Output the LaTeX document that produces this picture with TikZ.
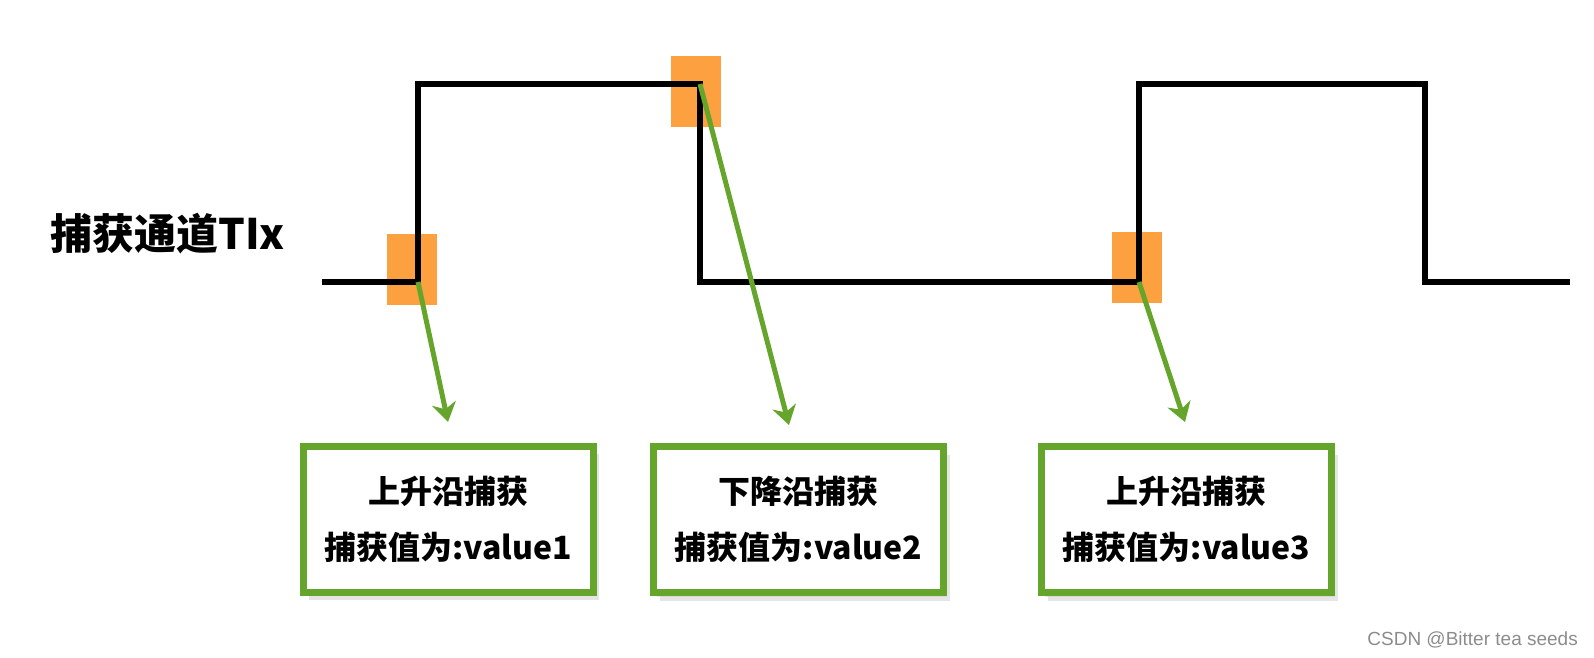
\documentclass[tikz,border=0pt]{standalone}
\usepackage{fontspec}
\setmainfont{Liberation Sans}
\newfontfamily\cjk{Noto Sans CJK SC}
\usetikzlibrary{arrows.meta,shadows}
\definecolor{gbox}{RGB}{101,165,43}
\definecolor{orng}{RGB}{252,160,64}
\tikzset{
  capbox/.style={draw=gbox, line width=7pt, fill=white, minimum width=290pt, minimum height=146pt,
    align=center, inner sep=0pt, font=\cjk\bfseries\fontsize{32}{56}\selectfont,
    double copy shadow={shadow xshift=3pt, shadow yshift=-4pt, draw=none, fill=black!20, opacity=0.5}},
  mark box/.style={fill=orng, draw=none, minimum width=50pt, minimum height=71pt, inner sep=0pt},
  sig/.style={line width=6pt, line join=miter, black},
  garrow/.style={draw=gbox, line width=5pt, -{Stealth[length=19pt,width=24pt,inset=6pt]}}
}
\begin{document}
\begin{tikzpicture}[x=1pt,y=-1pt]
\useasboundingbox (0,0) rectangle (1594,657);
% title
\node[anchor=west, inner sep=0pt, font=\cjk\bfseries\fontsize{42}{50}\selectfont] (title) at (50,234) {捕获通道TIx};
% orange markers
\node[mark box] (m1) at (412,269.5) {};
\node[mark box] (m2) at (695.5,91.5) {};
\node[mark box] (m3) at (1137,267.5) {};
% signal
\coordinate (s0) at (322,282);
\coordinate (r1) at (418,282);
\coordinate (h1) at (418,84);
\coordinate (f1) at (700,84);
\coordinate (l1) at (700,282);
\coordinate (r2) at (1139,282);
\coordinate (h2) at (1139,84);
\coordinate (f2) at (1425,84);
\coordinate (l2) at (1425,282);
\coordinate (s1) at (1570,282);
\draw[sig] (s0) -- (r1) -- (h1) -- (f1) -- (l1) -- (r2) -- (h2) -- (f2) -- (l2) -- (s1);
% boxes
\node[capbox] (b1) at (448,519) {上升沿捕获\\捕获值为:value1};
\node[capbox] (b2) at (798.5,519.5) {下降沿捕获\\捕获值为:value2};
\node[capbox] (b3) at (1186.5,519.5) {上升沿捕获\\捕获值为:value3};
% arrows
\coordinate (t1) at (448,422);
\coordinate (t2) at (789,425);
\coordinate (t3) at (1185,422);
\draw[garrow] (r1) -- (t1);
\draw[garrow] (f1) -- (t2);
\draw[garrow] (r2) -- (t3);
% watermark
\node[anchor=east, inner sep=0pt, text=black!45, font=\fontsize{19}{22}\selectfont] (wm) at (1578,640) {CSDN @Bitter tea seeds};
\end{tikzpicture}
\end{document}
